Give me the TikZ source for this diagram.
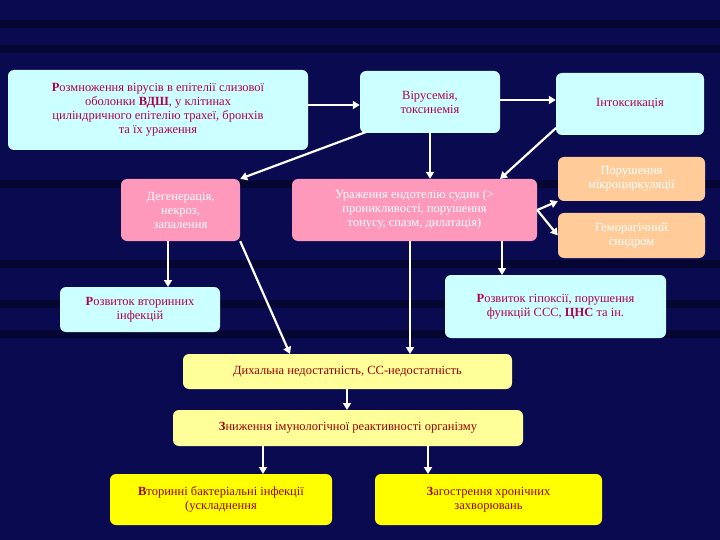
\documentclass[tikz,border=0pt]{standalone}
\usepackage{fontspec}
\setmainfont{Liberation Serif}
\usetikzlibrary{arrows.meta}
\definecolor{bg}{HTML}{0A0A50}
\definecolor{cy}{HTML}{CCFFFF}
\definecolor{pk}{HTML}{FF99BB}
\definecolor{orn}{HTML}{FFCC99}
\definecolor{ly}{HTML}{FFFF99}
\definecolor{yl}{HTML}{FFFF00}
\definecolor{mag}{HTML}{B0004E}
\definecolor{rd}{HTML}{C00000}
\begin{document}
\begin{tikzpicture}[x=1pt,y=-1pt,
 box/.style={rounded corners=6pt,align=center,inner sep=2pt,font=\fontsize{12.5}{14}\selectfont},
 cb/.style={box,fill=cy,text=mag},
 pb/.style={box,fill=pk,text=white},
 ob/.style={box,fill=orn,text=white},
 yb/.style={box,fill=ly,text=rd!80!black},
 Yb/.style={box,fill=yl,text=rd!80!black},
 ar/.style={draw=white,line width=2.2pt,-{Triangle[length=7pt,width=8pt]}}]
\fill[bg] (0,0) rectangle (720,540);
\foreach \y in {20,45,180,260,300,330} \fill[black!70!bg,opacity=.5] (0,\y) rectangle (720,\y+8);
\node[cb,minimum width=300pt,minimum height=80pt] (A) at (158,110) {\textbf{Р}озмноження вірусів в епітелії слизової\\оболонки \textbf{ВДШ}, у клітинах\\циліндричного епітелію трахеї, бронхів\\та їх ураження};
\node[cb,minimum width=140pt,minimum height=62pt] (B) at (430,102) {Вірусемія,\\токсинемія};
\node[cb,minimum width=148pt,minimum height=62pt] (C) at (630,104) {Інтоксикація};
\node[pb,minimum width=119pt,minimum height=62pt] (D) at (180.5,210) {Дегенерація,\\некроз,\\запалення};
\node[pb,minimum width=245pt,minimum height=62pt] (E) at (414.5,210) {Ураження ендотелію судин (>\\проникливості, порушення\\тонусу, спазм, дилатація)};
\node[ob,minimum width=147pt,minimum height=44pt] (F) at (631.5,179) {Порушення\\мікроциркуляції};
\node[ob,minimum width=147pt,minimum height=45pt] (G) at (631.5,235.5) {Геморагічний\\синдром};
\node[cb,minimum width=160pt,minimum height=45pt] (H) at (140,309.5) {\textbf{Р}озвиток вторинних\\інфекцій};
\node[cb,minimum width=221pt,minimum height=63pt] (I) at (555.5,306.5) {\textbf{Р}озвиток гіпоксії, порушення\\функцій ССС, \textbf{ЦНС} та ін.};
\node[yb,minimum width=329pt,minimum height=35pt] (J) at (347.5,371.5) {Дихальна недостатність, СС-недостатність};
\node[yb,minimum width=350pt,minimum height=36pt] (K) at (348,428) {\textbf{З}ниження імунологічної реактивності організму};
\node[Yb,minimum width=222pt,minimum height=51pt] (L) at (221,499.5) {\textbf{В}торинні бактеріальні інфекції\\(ускладнення};
\node[Yb,minimum width=227pt,minimum height=51pt] (M) at (488.5,499.5) {\textbf{З}агострення хронічних\\захворювань};
\draw[ar] (A.east |- 0,105) -- (B.west |- 0,105);
\draw[ar] (B.east |- 0,100) -- (C.west |- 0,100);
\draw[ar] (366,132) -- (D.north east);
\draw[ar] (B.south) -- (B.south |- E.north);
\draw[ar] (556,128) -- (500,179);
\draw[ar] (E.east) -- (F.south west);
\draw[ar] (E.east) -- (G.west);
\draw[ar] (502,241) -- (502,275);
\draw[ar] (168,241) -- (168,287);
\draw[ar] (D.south east) -- (290,354);
\draw[ar] (410,241) -- (410,354);
\draw[ar] (347,389) -- (347,410);
\draw[ar] (263,446) -- (263,474);
\draw[ar] (428,446) -- (428,474);
\end{tikzpicture}
\end{document}
